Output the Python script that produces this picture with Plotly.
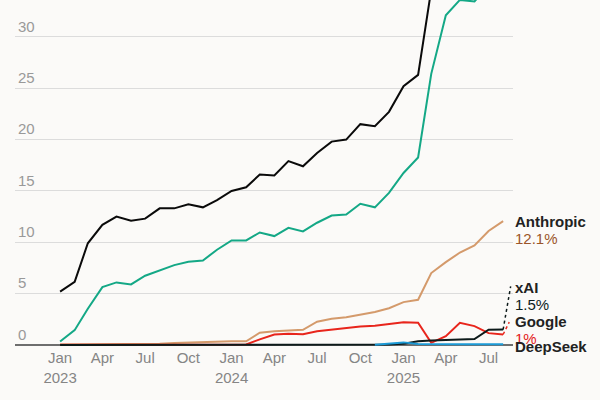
import plotly.graph_objects as go
import pandas as pd

months = [d.strftime("%Y-%m-%d") for d in pd.date_range("2023-01-01", "2025-08-01", freq="MS")]

black_vals = [5.2, 6.15, 9.9, 11.7, 12.5, 12.1, 12.3, 13.3, 13.3, 13.7, 13.4, 14.1,
              15.0, 15.35, 16.6, 16.5, 17.9, 17.4, 18.7, 19.8, 20.0, 21.5, 21.3, 22.7,
              25.2, 26.3, 34.6, 37.0, 39.5, 40.3, 41.8, 43.0]
green_vals = [0.34, 1.44, 3.52, 5.63, 6.09, 5.89, 6.74, 7.25, 7.77, 8.1, 8.23, 9.27,
              10.18, 10.18, 10.95, 10.6, 11.4, 11.05, 11.9, 12.6, 12.7, 13.75, 13.4, 14.8,
              16.75, 18.25, 26.4, 32.1, 33.6, 33.45, 35.0, 36.0]
anthropic_vals = [0.05, 0.05, 0.05, 0.07, 0.08, 0.1, 0.1, 0.12, 0.2, 0.25, 0.28, 0.33,
                  0.36, 0.36, 1.19, 1.34, 1.38, 1.48, 2.26, 2.55, 2.7, 2.97, 3.2, 3.58,
                  4.17, 4.4, 7.0, 8.06, 9.0, 9.7, 11.1, 12.05]
google_vals = [0.02, 0.02, 0.03, 0.03, 0.05, 0.05, 0.05, 0.05, 0.05, 0.05, 0.05, 0.05,
               0.05, 0.05, 0.54, 1.02, 1.09, 1.05, 1.34, 1.5, 1.6, 1.8, 1.87, 2.03,
               2.22, 2.16, 0.21, 0.86, 2.16, 1.83, 1.15, 1.02]
xai_vals = [0] * 22 + [0.02, 0.05, 0.12, 0.37, 0.44, 0.5, 0.53, 0.57, 1.48, 1.5]
deepseek_vals = [None] * 22 + [0.02, 0.12, 0.25, 0.1, 0.07, 0.06, 0.06, 0.06, 0.06, 0.06]

tick_vals = ["2023-01-01", "2023-04-01", "2023-07-01", "2023-10-01", "2024-01-01",
             "2024-04-01", "2024-07-01", "2024-10-01", "2025-01-01", "2025-04-01", "2025-07-01"]
tick_text = ["Jan<br>2023", "Apr", "Jul", "Oct", "Jan<br>2024", "Apr", "Jul", "Oct",
             "Jan<br>2025", "Apr", "Jul"]

labels = [
    # name, pct, y-position, name colour, pct colour
    ("Anthropic", "12.1%", 12.05, "#222222", "#9a5529"),
    ("xAI", "1.5%", 5.6, "#222222", "#0d1d1d"),
    ("Google", "1%", 2.3, "#222222", "#e3201b"),
    ("DeepSeek", None, -0.12, "#222222", None),
]

BG = "#fbfaf8"
FONT = "Liberation Sans, Arial, sans-serif"

fig = go.Figure()

series = [
    (anthropic_vals, "#d49a6b"),
    (google_vals, "#e8251c"),
    (xai_vals, "#0d1a1a"),
    (deepseek_vals, "#1c9ad6"),
    (green_vals, "#14a886"),
    (black_vals, "#0a0a0a"),
]
for vals, col in series:
    fig.add_trace(go.Scatter(x=months, y=vals, mode="lines",
                             line=dict(color=col, width=2), hoverinfo="skip",
                             showlegend=False))

for name, pct, yv, ncol, pcol in labels:
    fig.add_annotation(x=1, xref="paper", y=yv, yref="y", text=f"<b>{name}</b>",
                       showarrow=False, xanchor="left", yanchor="middle", xshift=0,
                       font=dict(family=FONT, size=15, color=ncol))
    if pct:
        fig.add_annotation(x=1, xref="paper", y=yv, yref="y", text=pct,
                           showarrow=False, xanchor="left", yanchor="middle", xshift=0,
                           yshift=-17, font=dict(family=FONT, size=15, color=pcol))

# dotted connectors from last points to labels
fig.add_shape(type="line", xref="x", yref="y", x0=months[-1], y0=xai_vals[-1],
              x1="2025-08-17", y1=5.7, line=dict(color="#0d1a1a", width=1.5, dash="dot"))
fig.add_shape(type="line", xref="x", yref="y", x0=months[-1], y0=google_vals[-1],
              x1="2025-08-14", y1=2.22, line=dict(color="#e8251c", width=1.5, dash="dot"))

fig.update_layout(
    width=600, height=400,
    margin=dict(l=15, r=87, t=0, b=53),
    paper_bgcolor=BG, plot_bgcolor=BG,
    font=dict(family=FONT, size=15, color="#8c8c8c"),
    showlegend=False,
)
fig.update_xaxes(range=["2022-09-27", "2025-08-22"], tickvals=tick_vals, ticktext=tick_text,
                 showgrid=False, zeroline=False, showline=False, ticks="",
                 tickfont=dict(family=FONT, size=15, color="#858585"))
fig.update_yaxes(range=[-0.2, 33.59], tickvals=[0, 5, 10, 15, 20, 25, 30],
                 ticklabelposition="inside top", showgrid=True, gridcolor="#dcdcdc",
                 gridwidth=1, zeroline=True, zerolinecolor="#6e6e6e", zerolinewidth=2,
                 showline=False, ticks="",
                 tickfont=dict(family=FONT, size=15, color="#999999"))

fig.write_html("out.html", config={"displayModeBar": False},
               post_script="document.body.style.margin='0';document.body.style.background='%s';" % BG)
